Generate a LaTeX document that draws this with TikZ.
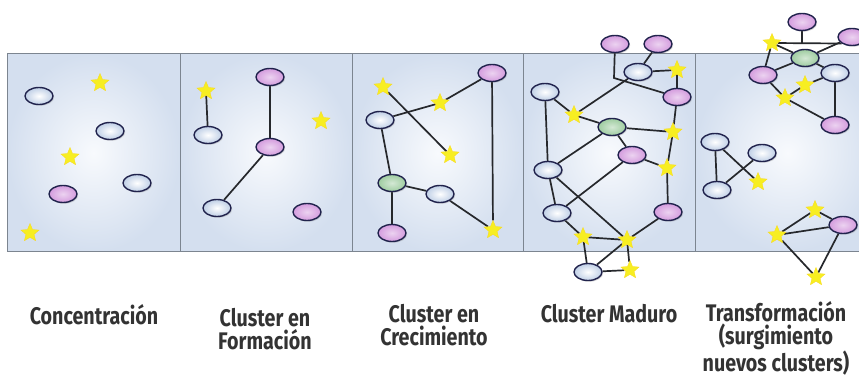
\documentclass[tikz,border=0pt]{standalone}
\usepackage{fontspec}
\newfontfamily\rotfont[FakeStretch=0.82]{Fira Sans}
\usetikzlibrary{shapes.geometric, shadows}
\definecolor{mazul}{HTML}{D4DFEF}
\definecolor{mfondo}{HTML}{F8FAFD}
\definecolor{mborde}{HTML}{7C8590}
\definecolor{mnodoazul}{HTML}{BFCFE6}
\definecolor{mrosa}{HTML}{D49CDE}
\definecolor{mverde}{HTML}{9ECCA0}
\definecolor{mestrella}{HTML}{F7EE22}
\definecolor{mlinea}{HTML}{26282C}
\definecolor{mtexto}{HTML}{333333}
\pgfdeclarelayer{fondo}
\pgfdeclarelayer{enlaces}
\pgfsetlayers{fondo,enlaces,main}
\tikzstyle{panel} = [draw=mborde, line width=1pt, inner color=mfondo, outer color=mazul]
\tikzstyle{nodo} = [ellipse, minimum width=28pt, minimum height=17pt, inner sep=0pt, draw=mlinea!85!blue, line width=1.4pt, drop shadow={shadow xshift=1.2pt, shadow yshift=-1.2pt, opacity=0.3}]
\tikzstyle{azul} = [nodo, inner color=white, outer color=mnodoazul]
\tikzstyle{rosa} = [nodo, inner color=white!55!mrosa, outer color=mrosa]
\tikzstyle{verde} = [nodo, inner color=white!55!mverde, outer color=mverde]
\tikzstyle{estrella} = [star, star points=5, star point ratio=2.2, minimum size=19pt, inner sep=0pt, fill=mestrella, draw=mestrella!80!orange, line width=0.3pt]
\tikzstyle{enlace} = [line width=1.7pt, draw=mlinea]
\tikzstyle{rotulo} = [font=\rotfont\bfseries\fontsize{24}{23}\selectfont, text=mtexto, align=center]

\begin{document}
\begin{tikzpicture}[x=1pt, y=-1pt]
  \useasboundingbox (0,0) rectangle (859,379);
  \clip (0,0) rectangle (859,379);
  \begin{pgfonlayer}{fondo}
    \fill [white] (0,0) rectangle (859,379);
    \foreach \xa/\xb in {7/180, 180/352, 352/523, 523/695, 695/880}
      \draw [panel] (\xa,54) rectangle (\xb,252);
  \end{pgfonlayer}

  % Concentracion
  \node (c1a) [azul] at (39,96) {};
  \node (c1b) [estrella] at (100,83) {};
  \node (c1c) [azul] at (110,131) {};
  \node (c1d) [estrella] at (70,157) {};
  \node (c1e) [azul] at (137,183) {};
  \node (c1f) [rosa] at (63,194) {};
  \node (c1g) [estrella] at (30,233) {};

  % Cluster en formacion
  \node (f1) [estrella] at (206,91) {};
  \node (f2) [azul] at (208,135) {};
  \node (f3) [rosa] at (270,77) {};
  \node (f4) [rosa] at (270,147) {};
  \node (f5) [estrella] at (321,121) {};
  \node (f6) [azul] at (217,208) {};
  \node (f7) [rosa] at (307,212) {};

  % Cluster en crecimiento
  \node (k1) [estrella] at (383,87) {};
  \node (k2) [rosa] at (492,73) {};
  \node (k3) [estrella] at (440,103) {};
  \node (k4) [azul] at (380,120) {};
  \node (k5) [estrella] at (450,155) {};
  \node (k6) [verde] at (392,183) {};
  \node (k7) [azul] at (440,194) {};
  \node (k8) [estrella] at (493,230) {};
  \node (k9) [rosa] at (392,233) {};

  % Cluster maduro
  \node (m1) [rosa] at (615,44) {};
  \node (m2) [rosa] at (658,44) {};
  \node (m3) [azul] at (638,72) {};
  \node (m4) [estrella] at (677,70) {};
  \node (m5) [azul] at (545,92) {};
  \node (m6) [rosa] at (677,97) {};
  \node (m7) [estrella] at (574,115) {};
  \node (m8) [verde] at (612,127) {};
  \node (m9) [estrella] at (673,132) {};
  \node (m10) [rosa] at (632,155) {};
  \node (m11) [azul] at (548,170) {};
  \node (m12) [estrella] at (667,168) {};
  \node (m13) [azul] at (557,213) {};
  \node (m14) [rosa] at (668,212) {};
  \node (m15) [estrella] at (583,237) {};
  \node (m16) [estrella] at (627,240) {};
  \node (m17) [azul] at (588,272) {};
  \node (m18) [estrella] at (630,270) {};
  \coordinate (m1c) at (614,78);

  % Transformacion
  \node (t1) [rosa] at (802,22) {};
  \node (t2) [rosa] at (852,37) {};
  \node (t3) [estrella] at (772,43) {};
  \node (t4) [verde] at (805,58) {};
  \node (t5) [rosa] at (763,75) {};
  \node (t6) [azul] at (835,73) {};
  \node (t7) [estrella] at (805,85) {};
  \node (t8) [estrella] at (785,98) {};
  \node (t9) [rosa] at (835,125) {};
  \node (t10) [azul] at (715,142) {};
  \node (t11) [azul] at (762,153) {};
  \node (t12) [estrella] at (758,182) {};
  \node (t13) [azul] at (717,190) {};
  \node (t14) [estrella] at (815,210) {};
  \node (t15) [rosa] at (843,225) {};
  \node (t16) [estrella] at (777,235) {};
  \node (t17) [estrella] at (816,277) {};

  \begin{pgfonlayer}{enlaces}
    \draw [enlace] (f1) -- (f2);
    \draw [enlace] (f3) -- (f4);
    \draw [enlace] (f4) -- (f6);

    \draw [enlace] (k1) -- (k5);
    \draw [enlace] (k4) -- (k3) -- (k2);
    \draw [enlace] (k2) -- (k8);
    \draw [enlace] (k4) -- (k6);
    \draw [enlace] (k6) -- (k7) -- (k8);
    \draw [enlace] (k6) -- (k9);

    \draw [enlace] (m1) -- (m1c) -- (m6);
    \draw [enlace] (m7) -- (m3);
    \draw [enlace] (m2) -- (m3) -- (m4) -- (m6) -- (m9);
    \draw [enlace] (m5) -- (m7) -- (m8) -- (m9);
    \draw [enlace] (m5) -- (m11);
    \draw [enlace] (m8) -- (m11);
    \draw [enlace] (m8) -- (m10) -- (m12);
    \draw [enlace] (m9) -- (m12) -- (m14) -- (m16);
    \draw [enlace] (m10) -- (m13);
    \draw [enlace] (m11) -- (m13) -- (m15);
    \draw [enlace] (m11) -- (m16);
    \draw [enlace] (m15) -- (m16) -- (m18) -- (m17) -- (m15);
    \draw [enlace] (m17) -- (m16);

    \draw [enlace] (t1) -- (t1 |- t3);
    \draw [enlace] (t3) -- (t2.south west);
    \draw [enlace] (t2) -- (t4);
    \draw [enlace] (t3) -- (t4) -- (t5) -- (t3);
    \draw [enlace] (t4) -- (t6) -- (t7) -- (t8) -- (t5);
    \draw [enlace] (t8) -- (t9) -- (t6);
    \draw [enlace] (t10) -- (t13) -- (t11);
    \draw [enlace] (t10) -- (t12);
    \draw [enlace] (t16) -- (t14) -- (t15) -- (t16) -- (t17) -- (t15);
  \end{pgfonlayer}

  \node (l1) [rotulo] at (94,315) {Concentración};
  \node (l2) [rotulo] at (265,329) {Cluster en\\Formación};
  \node (l3) [rotulo] at (434,325) {Cluster en\\Crecimiento};
  \node (l4) [rotulo] at (609,314) {Cluster Maduro};
  \node (l5) [rotulo] at (776,338) {Transformación\\(surgimiento\\nuevos clusters)};
\end{tikzpicture}
\end{document}
